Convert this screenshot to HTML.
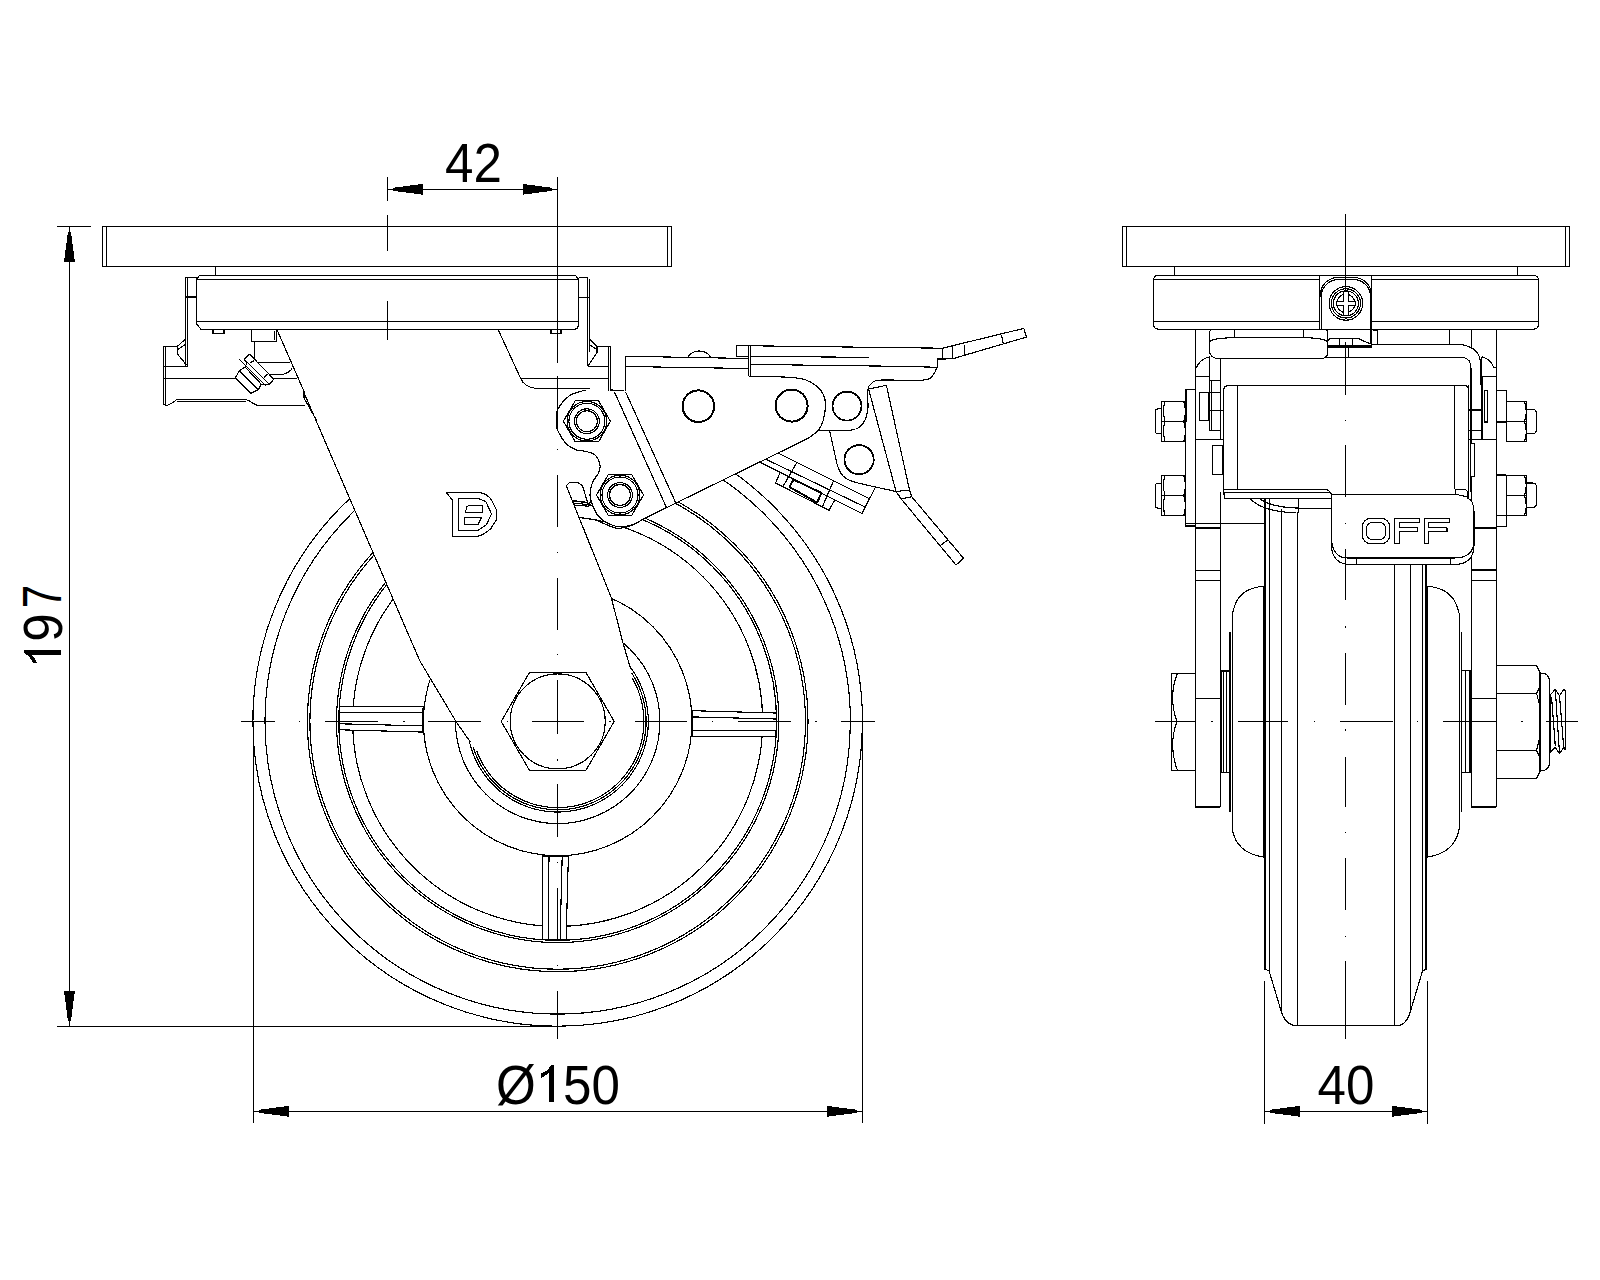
<!DOCTYPE html>
<html><head><meta charset="utf-8"><style>
html,body{margin:0;padding:0;background:#fff;width:1600px;height:1280px;overflow:hidden}
svg{display:block}
text{font-family:"Liberation Sans",sans-serif}
</style></head><body>
<svg width="1600" height="1280" viewBox="0 0 1600 1280" shape-rendering="crispEdges">
<g fill="none" stroke="#000" stroke-width="1.15" stroke-linejoin="round">
<circle cx="557.7" cy="721.4" r="304.8"/>
<circle cx="557.7" cy="721.4" r="292.7"/>
<circle cx="557.7" cy="721.4" r="250.3"/>
<circle cx="557.7" cy="721.4" r="247.8"/>
<circle cx="557.7" cy="721.4" r="221.2"/>
<circle cx="557.7" cy="721.4" r="218.9"/>
<circle cx="557.7" cy="721.4" r="205"/>
<circle cx="557.7" cy="721.4" r="134.3"/>
<circle cx="557.7" cy="721.4" r="102.2"/>
<path fill="#fff" d="M692.68 710.72 L776.36 713.03 L775.99 736.63 L692.28 736.32 Z"/>
<path d="M692.59 716.92 L776.26 719.03"/>
<path d="M692.38 730.12 L776.08 730.63"/>
<path fill="#fff" d="M568.38 856.38 L566.07 940.06 L542.47 939.69 L542.78 855.98 Z"/>
<path d="M562.18 856.29 L560.07 939.96"/>
<path d="M548.98 856.08 L548.47 939.78"/>
<path fill="#fff" d="M422.72 732.08 L339.04 729.77 L339.41 706.17 L423.12 706.48 Z"/>
<path d="M422.81 725.88 L339.14 723.77"/>
<path d="M423.02 712.68 L339.32 712.17"/>
<path d="M778.5 453.25 L869.5 498.75 M766.5 459.5 L864.5 506.75 M760.5 462.5 L862 513.5 M775.5 483 L829 510.25 M780 473 L775.5 483 M796.5 463 L783 486.5 M829 510.25 L835 499.5 M833.5 481 L822.5 506.5 M875.5 487 L862 513.5"/>
<path stroke-width="2" d="M793.5 479.5 L821.5 493 L817 502.5 L789.5 487 Z"/>
<path fill="#fff" d="M276.5 329 L419.7 660.6 L455.8 721.2 L470 741.6 L469.42 741.78 L470.61 746.37 L472.04 750.9 L473.7 755.34 L475.59 759.69 L477.7 763.93 L480.04 768.06 L482.59 772.06 L485.34 775.92 L488.3 779.64 L491.44 783.19 L494.76 786.57 L498.26 789.78 L501.92 792.79 L505.73 795.62 L509.69 798.23 L513.78 800.64 L517.98 802.83 L522.3 804.8 L526.71 806.54 L531.21 808.04 L535.78 809.31 L540.41 810.34 L545.09 811.12 L549.8 811.66 L554.54 811.94 L559.28 811.99 L564.02 811.78 L568.74 811.32 L573.43 810.62 L578.08 809.68 L582.67 808.49 L587.2 807.06 L591.64 805.4 L595.99 803.51 L600.23 801.4 L604.36 799.06 L608.36 796.51 L612.22 793.76 L615.94 790.8 L619.49 787.66 L622.87 784.34 L626.08 780.84 L629.09 777.18 L631.92 773.37 L634.53 769.41 L636.94 765.32 L639.13 761.12 L641.1 756.8 L642.84 752.39 L644.34 747.89 L645.61 743.32 L646.64 738.69 L647.42 734.01 L647.96 729.3 L648.24 724.56 L648.29 719.82 L648.08 715.08 L647.62 710.36 L646.92 705.67 L645.98 701.02 L644.79 696.43 L643.36 691.9 L641.7 687.46 L639.81 683.11 L637.7 678.87 L635.36 674.74 L632.81 670.74 L630.06 666.88 L623 643 L611.25 597.5 L566.25 485.6 L569.4 482.5 L577.5 482.5 L582.5 485.6 L588.75 506.25 L600 470 L625.6 391.25 L590 388 L535 388 L520.6 378 L498 329 Z"/>
<path d="M473.16 747.25 L474.64 751.66 L476.35 755.98 L478.28 760.22 L480.43 764.34 L482.8 768.35 L485.37 772.22 L488.14 775.96 L491.11 779.54 L494.26 782.96 L497.59 786.21 L501.08 789.29 L504.73 792.17 L508.52 794.86 L512.46 797.34 L516.51 799.62 L520.69 801.68 L524.96 803.51 L529.32 805.12 L533.77 806.5 L538.28 807.64 L542.84 808.54 L547.45 809.2 L552.08 809.62 L556.73 809.79 L561.38 809.72 L566.02 809.41 L570.64 808.85 L575.22 808.05 L579.75 807.01 L584.23 805.73 L588.62 804.21 L592.94 802.47 L597.15 800.51 L601.26 798.32 L605.25 795.92 L609.1 793.32 L612.81 790.52 L616.37 787.52 L619.77 784.34 L623 780.99 L626.04 777.47 L628.89 773.8 L631.55 769.98 L634.01 766.03 L636.25 761.96 L638.27 757.77 L640.07 753.48 L641.65 749.1 L642.99 744.65 L644.09 740.13 L644.96 735.56 L645.58 730.95 L645.96 726.31 L646.1 721.66 L645.99 717.01 L645.64 712.37 L645.04 707.76 L644.2 703.18 L643.12 698.66 L641.81 694.2 L640.26 689.81 L638.49 685.51 L636.49 681.31 L634.27 677.22 L631.84 673.25"/>
<path d="M476.7 750.88 L478.36 755.1 L480.24 759.23 L482.34 763.25 L484.65 767.16 L487.16 770.94 L489.86 774.58 L492.75 778.08 L495.83 781.42 L499.07 784.59 L502.47 787.59 L506.03 790.4 L509.74 793.02 L513.57 795.45 L517.53 797.67 L521.6 799.67 L525.76 801.47 L530.02 803.03 L534.35 804.38 L538.75 805.49 L543.2 806.37 L547.69 807.02 L552.21 807.43 L556.74 807.59 L561.28 807.53 L565.81 807.22 L570.31 806.67 L574.78 805.89 L579.2 804.88 L583.56 803.63 L587.85 802.15 L592.06 800.46 L596.17 798.54 L600.18 796.41 L604.07 794.07 L607.82 791.53 L611.44 788.79 L614.92 785.87 L618.23 782.77 L621.37 779.5 L624.34 776.07 L627.13 772.49 L629.72 768.77 L632.11 764.91 L634.3 760.94 L636.27 756.85 L638.03 752.67 L639.56 748.4 L640.87 744.06 L641.95 739.65 L642.79 735.19 L643.4 730.7 L643.77 726.17 L643.9 721.64 L643.79 717.1 L643.45 712.58 L642.86 708.08 L642.05 703.62 L640.99 699.21 L639.71 694.85 L638.2 690.58 L636.47 686.38 L634.52 682.29 L632.35 678.3"/>
<path d="M573.1 501.25 L586.9 502.5 M574.4 505 L588.75 506.25 M580 517.5 L596.25 520"/>
<path fill="#fff" d="M614.2 721.4 L585.95 770.33 L529.45 770.33 L501.2 721.4 L529.45 672.47 L585.95 672.47 Z"/>
<circle cx="557.7" cy="721.4" r="47.5"/>
<path fill="#fff" stroke="none" d="M625.6 391.25 L625.6 356.25 L748.75 358.5 L748.75 376.25 L796 377.7 L814.1 384.2 L823.1 391.5 L825.5 404.5 L823.1 420.75 L818.2 430.5 L848.2 430.5 L861.2 425.6 L867.7 411 L867.7 389.9 L872 383 L880.7 380.1 L923 380.1 L933 375 L937.6 365 L937.6 358.5 L748.75 358.5 Z"/>
<path fill="#fff" stroke="none" d="M807.6 438.6 L779 453.25 L642.5 519.4 L635 523.75 L620 526.9 L606.25 522.5 L597.5 515 L592.5 505 L590 495 L592.5 482.5 L598.75 472.5 L600 465 L595 455 L585 451.25 L576.25 450 L566.25 443.75 L557.5 430 L556.25 421.25 L557.5 410 L568.75 396.25 L581.25 391.25 L590 389.4 L606.25 390.6 L625.6 391.25 L748.75 376.25 L796 377.7 L819 430.5 Z"/>
<path d="M625.6 391.25 V356.25 L748.75 358.5"/>
<path d="M818.2 430.5 C823.2 430.5 841.03 431.32 848.2 430.5 C855.37 429.68 857.95 428.85 861.2 425.6 C864.45 422.35 866.62 416.95 867.7 411 C868.78 405.05 866.98 394.57 867.7 389.9 C868.42 385.23 869.83 384.63 872 383 C874.17 381.37 872.2 380.58 880.7 380.1 C889.2 379.62 914.28 380.95 923 380.1 C931.72 379.25 930.57 377.52 933 375 C935.43 372.48 936.83 367.75 937.6 365 C938.37 362.25 937.6 359.58 937.6 358.5"/>
<path d="M748.75 376.25 C755.62 376.43 780.46 376.68 790 377.3 C799.54 377.93 801.58 378.55 806 380 C810.42 381.45 813.65 383.67 816.5 386 C819.35 388.33 821.6 390.92 823.1 394 C824.6 397.08 825.5 400.04 825.5 404.5 C825.5 408.96 824.32 416.42 823.1 420.75 C821.88 425.08 820.78 427.52 818.2 430.5 C815.62 433.48 809.37 437.25 807.6 438.6"/>
<path d="M807.6 438.6 L642.5 519.4"/>
<path d="M642.5 519.4 C641.25 520.12 638.75 522.5 635 523.75 C631.25 525 624.79 527.11 620 526.9 C615.21 526.69 610 524.48 606.25 522.5 C602.5 520.52 599.79 517.92 597.5 515 C595.21 512.08 593.75 508.33 592.5 505 C591.25 501.67 590 498.75 590 495 C590 491.25 591.04 486.25 592.5 482.5 C593.96 478.75 597.5 475.42 598.75 472.5 C600 469.58 600.62 467.92 600 465 C599.38 462.08 597.5 457.29 595 455 C592.5 452.71 588.12 452.08 585 451.25 C581.88 450.42 579.38 451.25 576.25 450 C573.12 448.75 569.38 447.08 566.25 443.75 C563.12 440.42 559.17 433.75 557.5 430 C555.83 426.25 556.25 424.58 556.25 421.25 C556.25 417.92 555.42 414.17 557.5 410 C559.58 405.83 564.79 399.38 568.75 396.25 C572.71 393.12 577.71 392.39 581.25 391.25 C584.79 390.11 585.83 389.51 590 389.4 C594.17 389.29 603.54 390.4 606.25 390.6"/>
<path d="M637.5 522.5 C635.83 523.23 631.04 525.97 627.5 526.9 C623.96 527.83 620 528.58 616.25 528.1 C612.5 527.62 608.44 525.35 605 524 C601.56 522.65 597.17 520.67 595.6 520"/>
<path d="M614.4 391.9 L666.25 507 M625.6 391.9 L675.6 502.5"/>
<circle cx="698.4" cy="406.2" r="15.8" stroke-width="2"/>
<circle cx="791.6" cy="405.6" r="16" stroke-width="2"/>
<circle cx="847" cy="406.1" r="14.5" stroke-width="1.8"/>
<path d="M610.4 421.25 L598.65 441.6 L575.15 441.6 L563.4 421.25 L575.15 400.9 L598.65 400.9 Z"/>
<circle cx="586.9" cy="421.25" r="19.8"/>
<circle cx="586.9" cy="421.25" r="18"/>
<circle cx="586.9" cy="421.25" r="12.4"/>
<circle cx="586.9" cy="421.25" r="10.5"/>
<path d="M643.5 495 L631.75 515.35 L608.25 515.35 L596.5 495 L608.25 474.65 L631.75 474.65 Z"/>
<circle cx="620" cy="495" r="19.8"/>
<circle cx="620" cy="495" r="18"/>
<circle cx="620" cy="495" r="12.4"/>
<circle cx="620" cy="495" r="10.5"/>
<path fill="#fff" stroke="none" d="M829.6 430.5 L837.7 466.2 L843 476 L852.5 481.5 L875.5 487 L896 491.5 L881.75 430.5 Z"/>
<path d="M829.6 430.5 C830.5 434.58 833.65 449.05 835 455 C836.35 460.95 836.37 462.7 837.7 466.2 C839.03 469.7 840.53 473.45 843 476 C845.47 478.55 847.08 479.67 852.5 481.5 C857.92 483.33 868.25 485.33 875.5 487 C882.75 488.67 892.58 490.75 896 491.5"/>
<circle cx="859.1" cy="459.7" r="14.6" stroke-width="1.8"/>
<path fill="#fff" d="M868.6 389 L886.4 385.3 L909.5 490 L911.75 496.75 L963.5 558.25 L956 565 L901.25 499 L896 491.5 Z"/>
<path d="M896 491.5 L909.5 490 M901.25 499 L911.75 496.75 M940.25 545.5 L948.5 539.5"/>
<path fill="#fff" stroke="none" d="M736.25 345.6 L942.4 348.2 L1023.8 328.4 L1026.4 337.1 L952.5 358.8 L942.4 359 L937.6 359 L937.6 366.9 L750.6 366 L750.6 376.25 L748.75 376.25 L748.75 356.25 L736.25 356.25 Z"/>
<path d="M736.25 356.25 V345.6 L942.4 348.2 L1023.8 328.4 L1026.4 337.1 L952.5 358.8 L942.4 359 H937.6 V366.9 M736.25 356.25 H748.75 M748.75 345.6 V376.25 M750.6 345.6 V376.25 M750.6 364.4 L904.8 366.4 L937.6 367.3 M750.6 356.25 L868.6 357.4 M942.4 348.2 V359 M952.5 345.9 V358.8 M964.3 344.6 V354.8 M1001.5 334.6 L1003.2 344"/>
<path d="M625.6 366.5 L748.75 368.5"/>
<path d="M688 357 A13.6 13.6 0 0 1 710.6 357"/>
<path d="M446.2 492.4 H478.6 C484 493 489 496 491.5 500 L496.2 509.2 V520.2 L490.7 528.75 C487 532 482 535.5 477.8 536.2 H452.4 V500.2 Z"/>
<path d="M458.3 498.3 H478.2 L486 501.8 L491.5 513.9 L486.4 524.8 L478.2 530.3 H458.3 Z"/>
<path d="M465.3 512.3 L466.9 506.9 L469.2 505.3 H482.5 V512.3 Z M464.3 517.4 H481.7 L478.2 524.3 H464.3 Z"/>
<path fill="#fff" stroke="none" d="M163.5 346 V403 Q164 405.5 167 405.4 L177 399.4 H245.6 L257.5 405.7 H305 L304 391.4 L276.8 329.3 H196.5 V277.5 H185.4 V339 L177.5 346 Z"/>
<path d="M163.5 346 V403 Q164 405.5 167 405.4 Q172 404 177 399.4 H245.6 L248.2 400.4 L257.5 405.7 H305 M165.2 346 V405 M163.5 346.25 H177.5 M177.5 346.25 V354 L186.6 365.2 M163.5 366.25 H187.5 M177.5 346.25 L185.4 339 M177.9 349.4 L184.9 344.7 M185.4 277.5 V366.25 M187.5 277.5 V366.25 M185.4 297 H196.5 M185.4 277.5 H196.5 M177 401.4 H245.6"/>
<path d="M163.5 378.1 H235.3 M273.8 378.1 H297.4"/>
<path d="M276.8 329.3 L304 391.4 L304 398 L316.25 420"/>
<path fill="#fff" d="M251.6 329.3 H276.1 V341.3 H251.6 Z"/>
<path d="M274.5 331 V340"/>
<path fill="#fff" d="M254.2 341.3 V358.9 Q255 361.5 256.9 362.5 H290.4 L292.4 367.5 Q291 372 282.8 374.5 H268.2 Z" stroke="none"/>
<path d="M254.2 341.3 V358.9 Q255 361.5 256.9 362.5 H290.4 M292.4 367.5 Q291 372 282.8 374.5 H268.2"/>
<path fill="#fff" d="M235.3 378.1 L239.3 370.8 L244.9 367.2 L246.9 363 L244.3 359.2 L249.6 354.2 L273.8 379.1 L269.5 384.4 L265.8 384.6 L261.2 384.1 L258.5 389.4 L250.6 393.4 Z"/>
<path d="M239.6 370.8 L258.2 389.4 M244.9 366.8 L261.2 384.1 M239.3 359.2 L265.8 385.8 M244.3 359.2 L269.5 384.4 M263.8 377.5 L267.5 373.8 M250 363 L254.5 360.5"/>
<path fill="#fff" stroke="none" d="M578.5 277.5 H587.9 V339 L597 346.25 H610.6 V391.25 H590 V389.5 H533 L519 379 L496.5 329.3 H578.5 Z"/>
<path d="M578.5 277.5 H587.9 M498 329.3 L520.6 378.25 Q524 386.5 535 388.3 H590 M589.5 279 V352 M597 346.25 H610.6"/>
<path d="M587.9 277.5 V366.25 M578.5 297.25 H589.5 M589.6 339 L597 346.25 V352.5 L588 366.25 M590 345 L596.9 349.4 M588 366.25 H608.5 M520.6 378.25 H608.5 M608.75 346.25 V391.25 M610.6 346.25 V391.25"/>
<rect fill="#fff" x="102.3" y="226.4" width="569.2" height="39.8"/>
<path d="M106.4 226.4 V266.2 M667.5 226.4 V266.2 M215.3 266.2 V275.6 M557.7 266.2 V275.6"/>
<path fill="#fff" d="M196.5 279 L199.5 275.6 H575.5 L578.5 279 V324 Q578.5 329.3 573.5 329.3 H201 L196.5 324 Z"/>
<path d="M196.5 279.4 H578.5 M196.5 321.5 H578.5"/>
<path d="M213 329 V333.5 H224 V329 M551 329 V333.5 H561 V329"/>
<path d="M240.9 721.4 H274.8"/>
<path d="M325.3 721.4 H377.7"/>
<path d="M428.4 721.4 H481"/>
<path d="M532.4 721.4 H583.8"/>
<path d="M635.2 721.4 H686.6"/>
<path d="M737.7 721.4 H791.2"/>
<path d="M841 721.4 H874.75"/>
<path d="M299.2 721.4 H300.4"/>
<path d="M403.3 721.4 H404.5"/>
<path d="M506.6 721.4 H507.8"/>
<path d="M609.4 721.4 H610.6"/>
<path d="M712.2 721.4 H713.4"/>
<path d="M815.3 721.4 H816.5"/>
<path d="M557.7 177 V363.2"/>
<path d="M557.7 375.6 V429"/>
<path d="M557.7 475 V527"/>
<path d="M557.7 577.5 V629.5"/>
<path d="M557.7 680 V734"/>
<path d="M557.7 784.2 V836.5"/>
<path d="M557.7 888.4 V940"/>
<path d="M557.7 991 V1038.5"/>
<path d="M557.7 448.7 V449.9"/>
<path d="M557.7 551.7 V552.9"/>
<path d="M557.7 654.1 V655.3"/>
<path d="M557.7 759.4 V760.6"/>
<path d="M557.7 861.8 V863"/>
<path d="M557.7 964.7 V965.9"/>
<path d="M387.5 177 V200.6"/>
<path d="M387.5 214.6 V250.9"/>
<path d="M387.5 301 V339.7"/>
<path fill="#fff" stroke="none" d="M1264.6 498 V969 L1269.1 971 L1281.3 1011.7 Q1285 1024 1295.5 1025.9 H1398.1 Q1407 1024 1410.3 1011.7 L1422.5 971 L1426.6 969 V498 Z"/>
<path d="M1264.6 969 L1269.1 971 L1281.3 1011.7 Q1285 1024 1295.5 1025.9 H1398.1 Q1407 1024 1410.3 1011.7 L1422.5 971 L1426.6 969"/>
<path d="M1269.1 498 V971 M1281.6 509 V1011.7 M1297.5 512 V1026 M1394.7 560 V1026 M1410.3 560 V1011.7 M1422.5 560 V971"/>
<path stroke-width="2.2" d="M1265.2 498 V969 M1426.2 498 V969"/>
<path fill="#fff" d="M1264 586.25 Q1239 588 1233.75 608.75 L1232.25 613.75 V828.8 Q1236 853 1264 857.2 Z"/>
<path fill="#fff" d="M1427 586.25 Q1452 588 1457.75 608.75 L1459.25 613.75 V828.8 Q1455 853 1427 857.2 Z"/>
<path d="M1230 631.9 V811.5 M1461.25 631.9 V811.5"/>
<path fill="#fff" d="M1221 671 H1230 V772.5 H1221 Z M1461.9 670.6 H1471.25 V772.5 H1461.9 Z"/>
<path d="M1223.1 671 V772.5 M1226.25 671 V772.5 M1465.25 670.6 V772.5 M1470 670.6 V772.5"/>
<path fill="#fff" d="M1195.25 329 H1220.25 V807 H1195.25 Z M1471.25 329 H1496.25 V807 H1471.25 Z"/>
<path d="M1195.25 570.25 H1220.25 M1195.25 580.25 H1220.25 M1195.25 698.4 H1220.25 M1471.25 570 H1496.25 M1471.25 580.5 H1496.25 M1471.25 698.4 H1496.25 M1195.25 528 H1220.25 M1471.75 528 H1496.25"/>
<path fill="#fff" d="M1171.25 673.4 H1195.25 V770.5 H1171.25 Z"/>
<path d="M1177.5 673.4 Q1168 697 1177 721.5 Q1168 746 1177.5 770.5 M1171.25 721.5 H1177"/>
<path fill="#fff" d="M1496.25 665.4 H1536.25 L1540 672.5 V771.5 L1536.25 778.5 H1496.25 Z"/>
<path d="M1496.25 693.5 H1536.6 M1496.25 750.4 H1536.6"/>
<path fill="#fff" d="M1540 673.1 H1544 Q1549.4 675 1549.4 682 V762 Q1549.4 769 1544 770.6 H1540 Z"/>
<path d="M1550.2 694.7 V752.8 M1550.2 694.7 L1555.3 689.5 L1559.5 695.6 L1563.7 689.5 L1565.6 691 V750.4 M1550.2 752.8 L1555.3 747.2 L1559.5 753.7 L1563.7 747.2 L1565.6 750.4 M1551.6 697.5 L1555.3 746.2 M1555.3 689.5 L1559.5 753.7 M1559.5 695.6 L1563.7 747.2"/>
<path d="M1536.6 665.4 L1540.3 673 M1540.3 686 L1536.6 693.5 L1540.3 708 M1540.3 735 L1536.6 750.4 L1540.3 758 M1536.6 778.5 L1540.3 770"/>
<path fill="#fff" d="M1161.1 401.1 H1185.3 V441.25 H1161.1 Z"/>
<path d="M1161.1 421.4 H1185.3 M1165 401.1 Q1162 411.1 1165 421.4 Q1162 431.1 1165 441.25 M1183.75 401.1 Q1187 411.1 1183.75 421.4 Q1187 431.1 1183.75 441.25"/>
<path fill="#fff" d="M1161.1 408.9 H1157.5 Q1155.2 409.6 1155.2 412.1 V431.1 Q1155.2 433.4 1157.5 433.9 H1161.1"/>
<path fill="#fff" d="M1161.1 475.3 H1185.3 V515.45 H1161.1 Z"/>
<path d="M1161.1 495.6 H1185.3 M1165 475.3 Q1162 485.3 1165 495.6 Q1162 505.3 1165 515.45 M1183.75 475.3 Q1187 485.3 1183.75 495.6 Q1187 505.3 1183.75 515.45"/>
<path fill="#fff" d="M1161.1 483.1 H1157.5 Q1155.2 483.8 1155.2 486.3 V505.3 Q1155.2 507.6 1157.5 508.1 H1161.1"/>
<path fill="#fff" d="M1506.25 401.75 H1526.5 V441.75 H1506.25 Z"/>
<path d="M1506.25 421.75 H1526.5 M1524.5 401.75 Q1528 411.75 1524.5 421.75 Q1528 431.75 1524.5 441.75"/>
<path fill="#fff" d="M1526.5 409.25 H1533 Q1536.25 409.75 1536.25 412.75 V430.75 Q1536.25 433.25 1533 433.75 H1526.5"/>
<path fill="#fff" d="M1506.25 475.5 H1526.5 V515.5 H1506.25 Z"/>
<path d="M1506.25 495.5 H1526.5 M1524.5 475.5 Q1528 485.5 1524.5 495.5 Q1528 505.5 1524.5 515.5"/>
<path fill="#fff" d="M1526.5 483 H1533 Q1536.25 483.5 1536.25 486.5 V504.5 Q1536.25 507 1533 507.5 H1526.5"/>
<path fill="#fff" d="M1185.3 389.4 H1195.25 V526 H1185.3 Z M1496.25 390.5 H1506.25 V422 H1496.25 Z"/>
<path d="M1186.9 389.4 V422 M1185.3 523.75 H1264 M1496.25 501.75 L1506.25 505.5 V526.5 H1496.25"/>
<path fill="#fff" d="M1496.25 475 H1506.25 V515.5 H1496.25 Z"/>
<path fill="#fff" stroke="none" d="M1209.4 358 H1222.5 V492 H1209.4 Z"/>
<path d="M1209.4 430.3 H1220.5 V356 M1220.5 430.3 V439.4"/>
<path d="M1211.5 380.7 V430.3 M1209.4 376.9 H1195.25 M1209.4 380.7 H1221 M1209.4 392.7 H1221 M1209.4 410.6 H1223 M1195.25 439.4 H1222.8 M1195.7 368.6 Q1200 358.3 1211.5 356.25 Q1220 357 1222.5 361"/>
<path fill="#fff" d="M1199.4 392.5 H1208.75 V420.3 H1199.4 Z M1212.2 445.3 H1222.8 V474.5 H1212.2 Z"/>
<path fill="#fff" stroke="none" d="M1468.75 357 H1482 V492 H1468.75 Z"/>
<path d="M1468.75 357 V492 M1481.5 356.75 V430.5 M1482 376.25 V439.5"/>
<path d="M1471 365 V492 M1482 376.25 H1496.25 M1468.75 410 H1481.5 M1468.75 430.5 H1481.5 M1468 439.5 H1496.25 M1481.5 356.75 Q1491 359 1493.5 367.25 H1496.25"/>
<path fill="#fff" d="M1470.25 443.25 H1474.75 V476.7 H1470.25 Z M1484.5 390.5 H1487.5 V422 H1484.5 Z"/>
<path fill="#fff" stroke="none" d="M1209.4 358 Q1211 346.7 1222 346.7 H1462 Q1480.75 348 1480.75 365 V385 H1209.4 Z"/>
<path d="M1372 344.75 H1462 Q1480.75 348 1480.75 365 V385"/>
<path d="M1209.4 356 V430.3 M1220.5 359 V430.3 M1211.9 379.6 V430.3 M1449.5 329 V344.75 M1209.4 376.9 H1195.25 M1209.4 380.7 H1221 M1209.4 392.7 H1221"/>
<path d="M1222 357.5 H1463.5 Q1471 359 1471 368 V385"/>
<path fill="#fff" stroke="none" d="M1223.6 390 Q1224 385.5 1229 385.5 H1464 Q1468.75 385.5 1468.75 390 V489.4 H1223.6 Z"/>
<path d="M1223.6 492.2 V390 Q1224 385.5 1229 385.5 H1464 Q1468.75 385.5 1468.75 390 V498"/>
<path d="M1237.7 385.5 V489.4 M1454.5 385.5 V489"/>
<path fill="#fff" d="M1223.6 489.4 H1324.4 Q1331.4 490 1331.4 496 V498.3 H1224.4 Z"/>
<path d="M1223.6 492.2 H1331.4 M1331.4 494.8 H1455.25"/>
<path fill="#fff" d="M1455.25 489.75 H1465 Q1467.7 490 1467.7 494 V498.75 H1455.25 Z"/>
<path d="M1249.4 498 Q1262 512 1296.25 512.8 M1258.75 498 Q1270 507.3 1297.8 508.1 H1331 M1298.6 498.75 V512.8"/>
<path fill="#fff" d="M1331.5 494.25 H1456 L1467.25 497 V498 Q1474 500 1474 513 V545 Q1474 564.75 1453 564.75 H1352.5 Q1331.5 564.75 1331.5 545 Z"/>
<path d="M1331.5 540 Q1333 558 1348 558 H1454.5 Q1474 558 1474 540 M1356.25 558 V564.75 M1450.75 558 V564.75"/>
<path stroke-width="1.1" d="M1372 518.25 H1380 Q1389.7 518.25 1389.7 528 V534 Q1389.7 543.75 1380 543.75 H1372 Q1362.25 543.75 1362.25 534 V528 Q1362.25 518.25 1372 518.25 Z M1373 522.5 H1379 Q1385.5 522.5 1385.5 529 V533 Q1385.5 539.5 1379 539.5 H1373 Q1366.5 539.5 1366.5 533 V529 Q1366.5 522.5 1373 522.5 Z"/>
<path d="M1394.5 518.25 H1419.7 V522.3 H1399.1 V527.7 H1417.3 V531.75 H1399.1 V543.75 H1394.5 Z"/>
<path d="M1424.2 518.25 H1449.4 V522.3 H1428.8 V527.7 H1447 V531.75 H1428.8 V543.75 H1424.2 Z"/>
<path d="M1195.25 807 H1220.25 M1471.25 807 H1496.25"/>
<path fill="#fff" d="M1209.4 333 Q1210 328 1216 328 H1320 Q1327.7 328 1327.7 333 V352 Q1327.7 358.7 1320 358.7 H1219.75 Q1209.4 358.7 1209.4 350 Z"/>
<path d="M1209.4 342 Q1212 338 1234.6 337.7 H1303.6 Q1325 338 1327.7 342 M1234.6 328 V337.7 M1303.6 328 V337.7"/>
<path d="M1327.7 340.5 Q1330 338.1 1333 338.1 H1357.2 L1370.5 344 M1327.7 346 H1372 M1327.7 347.9 H1372 M1339.6 338.1 V346 M1352.5 338.1 V346 M1348.2 347.9 V357.5 M1327.7 357.5 H1372 M1195.7 329 V358"/>
<rect fill="#fff" x="1122.5" y="226.6" width="446.9" height="39.6"/>
<path d="M1126.6 226.6 V266.2 M1565.6 226.6 V266.2 M1174.4 266.2 V275.4 M1517.5 266.2 V275.4"/>
<path fill="#fff" d="M1153.5 280.5 Q1153.5 275.4 1158.5 275.4 H1533.5 Q1538.5 275.4 1538.5 280.5 V324 Q1538.5 329.2 1533.5 329.2 H1158.5 Q1153.5 329.2 1153.5 324 Z"/>
<path d="M1153.5 279.5 H1538.5 M1153.5 321.5 H1538.5"/>
<path fill="#fff" stroke="none" d="M1319.4 276.2 H1372 V328.5 H1319.4 Z"/>
<path d="M1319.7 275.4 V329 M1371.6 275.4 V344.75 M1321.25 329 V296.7 M1370.5 296.7 V344 M1320.1 296.7 C1320.1 283 1330 277.2 1340 277.2 H1352 C1362 277.2 1371.6 283 1371.6 296.7 M1321.25 296.7 C1321.25 285 1331 279.1 1341 279.1 H1351 C1361 279.1 1370.5 285 1370.5 296.7 M1372.8 330 H1377.1 V344"/>
<circle cx="1345.9" cy="303.4" r="16.8"/>
<circle cx="1345.9" cy="303.4" r="14.6"/>
<circle cx="1345.9" cy="303.4" r="12.5"/>
<circle cx="1345.9" cy="303.4" r="9.2"/>
<path fill="#fff" d="M1343.9 291.6 H1348.2 V301.4 H1355.2 V305.7 H1348.2 V315.9 H1343.9 V305.7 H1336.9 V301.4 H1343.9 Z"/>
<path d="M1345.5 214 V290.5"/>
<path d="M1345.5 342 V394.8"/>
<path d="M1345.5 444.8 V497.2"/>
<path d="M1345.5 548.75 V600"/>
<path d="M1345.5 653 V705"/>
<path d="M1345.5 757 V807.4"/>
<path d="M1345.5 858.2 V910"/>
<path d="M1345.5 960.9 V1039"/>
<path d="M1345.5 419.7 V420.9"/>
<path d="M1345.5 522.8 V524"/>
<path d="M1345.5 626.4 V627.6"/>
<path d="M1345.5 729.4 V730.6"/>
<path d="M1345.5 831.8 V833"/>
<path d="M1345.5 935.9 V937.1"/>
<path d="M1155 721.4 H1195.5"/>
<path d="M1237.75 721.4 H1288"/>
<path d="M1339.8 721.4 H1393"/>
<path d="M1443.3 721.4 H1496"/>
<path d="M1546.25 721.4 H1577.5"/>
<path d="M1211.3 721.4 H1212.5"/>
<path d="M1314.2 721.4 H1315.4"/>
<path d="M1416.9 721.4 H1418.1"/>
<path d="M1521.3 721.4 H1522.5"/>
<path d="M57 226.5 H91 M57 1026.3 H546 M69.5 226.5 V1026.3 M387.5 189.3 H557.7 M253.5 734 V1123 M862.3 734 V1123 M253.5 1111.3 H862.3 M1264.6 981.2 V1124 M1427.3 981.2 V1124 M1264.6 1111.3 H1427.5"/>
<g fill="#000" stroke="none">
<path d="M67.95 231.9 L64.05 261.6 L74.85 261.6 L70.95 231.9 Z"/>
<path d="M70.95 1020.9 L74.85 991.2 L64.05 991.2 L67.95 1020.9 Z"/>
<path d="M392.9 190.8 L422.6 194.7 L422.6 183.9 L392.9 187.8 Z"/>
<path d="M552.3 187.8 L522.6 183.9 L522.6 194.7 L552.3 190.8 Z"/>
<path d="M258.9 1112.8 L288.6 1116.7 L288.6 1105.9 L258.9 1109.8 Z"/>
<path d="M856.9 1109.8 L827.2 1105.9 L827.2 1116.7 L856.9 1112.8 Z"/>
<path d="M1270 1112.8 L1299.7 1116.7 L1299.7 1105.9 L1270 1109.8 Z"/>
<path d="M1422.1 1109.8 L1392.4 1105.9 L1392.4 1116.7 L1422.1 1112.8 Z"/>
<g font-size="55">
<text transform="translate(445 182) scale(0.93 1)">42</text>
<text transform="translate(496 1103.5) scale(0.93 1)">Ø</text>
<text transform="translate(563 1103.5) scale(0.93 1)">50</text>
<path transform="translate(549.1 1102)" d="M2.1 -37.1 H4.9 V0 H0 V-29.1 L-2.2 -27.3 L-8.2 -23.8 V-28.2 L-1.8 -31.7 Z"/>
<text transform="translate(1317.5 1104) scale(0.93 1)">40</text>
<g transform="translate(61.3 665) rotate(-90)"><path transform="translate(9.8 0)" d="M2.1 -37.1 H4.9 V0 H0 V-29.1 L-2.2 -27.3 L-8.2 -23.8 V-28.2 L-1.8 -31.7 Z"/><text transform="translate(23.2 0.5) scale(0.93 1)">9</text><text transform="translate(56.85 0) scale(0.76 1)">7</text></g>
</g></g>
</g>
</svg>
</body></html>
